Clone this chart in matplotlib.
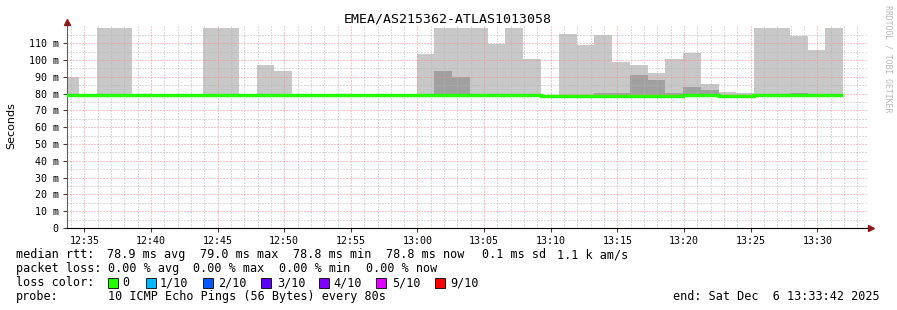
import matplotlib
matplotlib.use('Agg')
import matplotlib.pyplot as plt
import matplotlib.dates as mdates
import matplotlib.patches as mpatches
import numpy as np

W, H = 897, 310
MONO = 'DejaVu Sans Mono'

title = 'EMEA/AS215362-ATLAS1013058'
t_start = np.datetime64('2025-12-06T12:33:42')
t_end = np.datetime64('2025-12-06T13:33:42')
bin_start = np.datetime64('2025-12-06T12:33:16')
step_s = 80

# one value per 80 s bin (ms), nan = no smoke
median_ms = [79.0, 79.0, 79.3, 78.9, 78.9, 78.9, 78.9, 78.9, 78.9, 78.9,
             78.9, 78.9, 78.9, 78.9, 78.9, 78.9, 78.9, 78.9, 78.9, 78.9,
             79.0, 79.0, 79.0, 79.0, 79.0, 79.3, 79.3, 78.6, 78.6, 78.6,
             78.6, 78.6, 78.6, 78.6, 78.6, 79.3, 79.3, 78.6, 78.6, 79.1,
             79.1, 78.9, 78.9, 78.9]
smoke_max = [90, np.nan, 119, 119, np.nan, np.nan, np.nan, np.nan, 119, 119,
             np.nan, 97, 93.5, np.nan, np.nan, 80, np.nan, np.nan, np.nan, np.nan,
             103.5, 119, 119, 119, 109.5, 119, 100.5, np.nan, 115.5, 109,
             115, 99, 97, 92, 100.5, 104, 86, 81, 80.3, 119,
             119, 114, 106, 119]
smoke_mid = [np.nan] * 21 + [93.5, 90, np.nan, np.nan, np.nan, np.nan, np.nan, np.nan, np.nan,
             80.2, 80.2, 91, 88, 80.2, 84, 82, np.nan, np.nan, np.nan,
             np.nan, 80.2, np.nan, np.nan]

yticks = list(range(0, 120, 10))
ytick_labels = ['0' if v == 0 else f'{v} m' for v in yticks]

rtt_label = 'median rtt:'
rtt_items = ['78.9 ms avg', '79.0 ms max', '78.8 ms min', '78.8 ms now', '0.1 ms sd', '1.1 k am/s']
loss_label = 'packet loss:'
loss_items = ['0.00 % avg', '0.00 % max', '0.00 % min', '0.00 % now']
color_label = 'loss color:'
loss_names = ['0', '1/10', '2/10', '3/10', '4/10', '5/10', '9/10']
loss_colors = ['#26ff00', '#00b8ff', '#0059ff', '#5e00ff', '#7e00ff', '#dd00ff', '#ff0000']
probe_label = 'probe:'
probe_text = '10 ICMP Echo Pings (56 Bytes) every 80s'
end_text = 'end: Sat Dec  6 13:33:42 2025'

fig = plt.figure(figsize=(W / 100, H / 100), dpi=100)
fig.patch.set_facecolor('white')

# plot area in pixels
x0, x1, ytop, ybot = 67, 866.6, 26.4, 228
ax = fig.add_axes([x0 / W, 1 - ybot / H, (x1 - x0) / W, (ybot - ytop) / H])

edges = bin_start + np.arange(len(median_ms) + 1) * np.timedelta64(step_s, 's')
e = mdates.date2num(edges.astype('datetime64[s]').astype(object))
width = e[1] - e[0]
med = np.array(median_ms)
mx = np.array(smoke_max, dtype=float)
md = np.array(smoke_mid, dtype=float)

# smoke under the grid, median line over it
ok = ~np.isnan(mx)
ax.bar(e[:-1][ok], mx[ok] - med[ok], bottom=med[ok], width=width, align='edge',
       color='#c8c8c8', linewidth=0, zorder=0.5)
ok = ~np.isnan(md)
ax.bar(e[:-1][ok], md[ok] - med[ok], bottom=med[ok], width=width, align='edge',
       color='#a0a0a0', linewidth=0, zorder=0.6)
ax.stairs(med, e, baseline=None, color='#26ff00', linewidth=2.5, zorder=4)

ax.set_xlim(mdates.date2num(t_start.astype(object)), mdates.date2num(t_end.astype(object)))
ax.set_ylim(0, 120)

ax.xaxis.set_major_locator(mdates.MinuteLocator(byminute=range(0, 60, 5)))
ax.xaxis.set_minor_locator(mdates.MinuteLocator())
ax.xaxis.set_major_formatter(mdates.DateFormatter('%H:%M'))
ax.set_yticks(yticks)
ax.set_yticklabels(ytick_labels)
ax.set_yticks(np.arange(0, 120, 5), minor=True)

dots = (0, (1, 2))
ax.set_axisbelow('line')
ax.grid(True, which='minor', color='#b4b4b4', linestyle=dots, linewidth=0.72)
ax.grid(True, which='major', color='#f08c8c', linestyle=dots, linewidth=0.72)

ax.tick_params(axis='both', which='major', labelsize=7.2, length=3, width=0.8,
               color='#404040', pad=3)
ax.tick_params(axis='both', which='minor', length=0)
for lab in ax.get_xticklabels() + ax.get_yticklabels():
    lab.set_family(MONO)

for s in ['top', 'right']:
    ax.spines[s].set_visible(False)
ax.spines['left'].set_color('#606060')
ax.spines['bottom'].set_color('#000000')

# axis arrows
ax.plot([0], [1.022], marker='^', markersize=4.5, color='#8b1a1a', transform=ax.transAxes, clip_on=False)
ax.plot([1.005], [0], marker='>', markersize=4.5, color='#8b1a1a', transform=ax.transAxes, clip_on=False)


def px(x, y, s, **kw):
    kw.setdefault('family', MONO)
    kw.setdefault('fontsize', 8.5)
    kw.setdefault('va', 'center')
    fig.text(x / W, 1 - y / H, s, **kw)


px(447.5, 19, title, fontsize=9.5, ha='center')
px(11, 126, 'Seconds', family='DejaVu Sans', fontsize=8, rotation=90, ha='center')
px(888, 59, 'RRDTOOL / TOBI OETIKER', fontsize=5.9, rotation=270, ha='center', color='#b8b8b8')

px(16, 254.5, rtt_label)
for x, s in zip([107, 200, 293, 386, 482, 557], rtt_items):
    px(x, 254.5, s)

px(16, 268.5, loss_label)
for x, s in zip([108, 193, 279, 366], loss_items):
    px(x, 268.5, s)

px(16, 282.5, color_label)
for xs, xl, name, c in zip([108, 146, 203, 261, 319, 376, 435],
                           [122, 160, 218, 277, 333, 392, 450], loss_names, loss_colors):
    fig.patches.append(mpatches.Rectangle((xs / W, 1 - 287.5 / H), 10 / W, 10 / H,
                                          facecolor=c, edgecolor='black', linewidth=0.6,
                                          transform=fig.transFigure, figure=fig))
    px(xl, 282.5, name)

px(16, 296.5, probe_label)
px(108, 296.5, probe_text)
px(880, 296.5, end_text, ha='right')

fig.savefig('out.png', dpi=100)
